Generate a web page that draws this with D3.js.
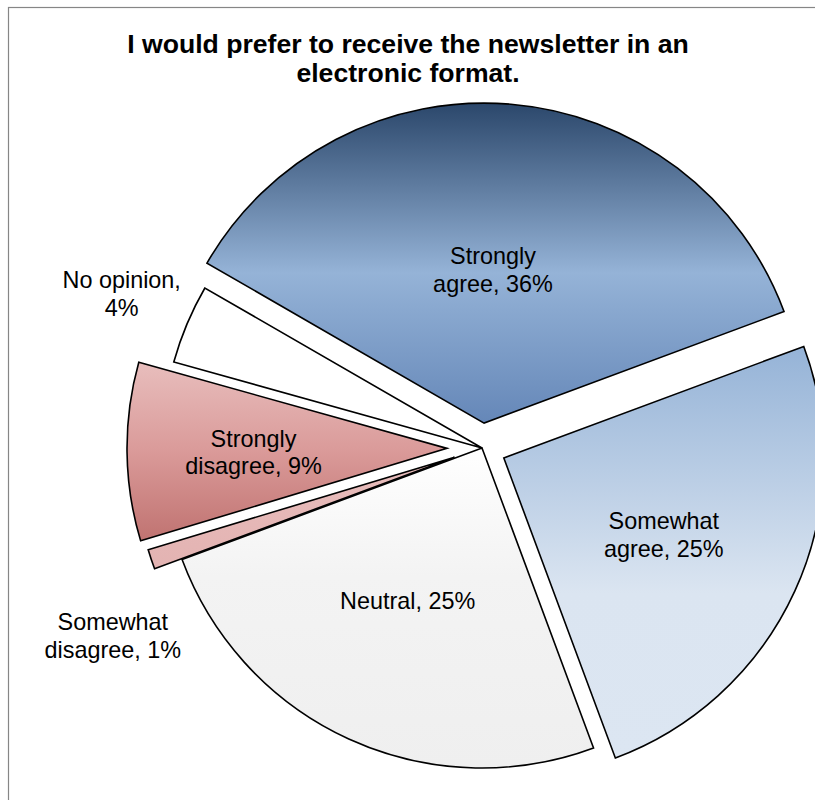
<!DOCTYPE html>
<html>
<head>
<meta charset="utf-8">
<script src="https://cdn.jsdelivr.net/npm/d3@7"></script>
<style>
  html, body { margin: 0; padding: 0; background: #fff; }
  svg { display: block; }
  text { font-family: "Liberation Sans", Arial, sans-serif; fill: #000; }
</style>
</head>
<body>
<svg id="chart" width="815" height="800"></svg>
<script>
// Survey answers, in the order the slices run clockwise
const categories = ["Strongly agree", "Somewhat agree", "Neutral", "Somewhat disagree", "Strongly disagree", "No opinion"];
const percents = [36, 25, 25, 1, 9, 4];
const labelLines = [
  ["Strongly", "agree, 36%"],
  ["Somewhat", "agree, 25%"],
  ["Neutral, 25%"],
  ["Somewhat", "disagree, 1%"],
  ["Strongly", "disagree, 9%"],
  ["No opinion,", "4%"]
];
const titleLines = ["I would prefer to receive the newsletter in an", "electronic format."];

// Presentation settings
const W = 815, H = 800;
const cx = 482, cy = 448, R = 320;
const startDeg = -60;
// how far each slice is pulled out from the centre (px)
const explode = [25, 24, 0, 29, 35, 0];
// label anchors: angle shift from the slice bisector (deg) and distance as a fraction of R
const labelPlace = [
  { da: -1.5, rf: 0.48 },
  { da: 1.1, rf: 0.555 },
  { da: 1.4, rf: 0.53 },
  { da: -9.0, rf: 1.205 },
  { da: -0.6, rf: 0.605 },
  { da: 0.4, rf: 1.225 }
];
// vertical gradient stops for each slice
const fills = [
  [[0, "#2b476b"], [0.53, "#95b3d7"], [1, "#6587b8"]],
  [[0, "#95b3d7"], [0.6, "#dbe5f1"], [1, "#dce6f2"]],
  [[0, "#ffffff"], [0.4, "#f3f3f3"], [1, "#efefef"]],
  [[0, "#e8bdbc"], [1, "#e3b3b2"]],
  [[0, "#e8bebd"], [0.5, "#da9a99"], [1, "#c07371"]],
  [[0, "#ffffff"], [1, "#ffffff"]]
];
const labelSize = 23.4;

const svg = d3.select("#chart");

// outer frame
svg.append("rect")
  .attr("x", 8.5).attr("y", 7.5)
  .attr("width", W + 20).attr("height", H + 20)
  .attr("fill", "#fff")
  .attr("stroke", "#868686").attr("stroke-width", 1.2);

// title
svg.append("text")
  .attr("text-anchor", "middle")
  .attr("font-weight", "bold")
  .attr("font-size", 26.6)
  .selectAll("tspan")
  .data(titleLines)
  .join("tspan")
  .attr("x", 408)
  .attr("y", (d, i) => 53 + i * 29)
  .text(d => d);

const data = categories.map((c, i) => ({ name: c, value: percents[i], lines: labelLines[i], idx: i }));

const pie = d3.pie()
  .value(d => d.value)
  .sort(null)
  .startAngle(startDeg * Math.PI / 180)
  .endAngle(startDeg * Math.PI / 180 + 2 * Math.PI);

const arc = d3.arc().innerRadius(0).outerRadius(R);

const defs = svg.append("defs");
fills.forEach((stops, i) => {
  const g = defs.append("linearGradient")
    .attr("id", "grad" + i)
    .attr("x1", 0).attr("y1", 0).attr("x2", 0).attr("y2", 1);
  stops.forEach(s => g.append("stop").attr("offset", s[0]).attr("stop-color", s[1]));
});

const arcs = pie(data);

const slices = svg.append("g")
  .selectAll("g.slice")
  .data(arcs)
  .join("g")
  .attr("class", "slice")
  .attr("transform", d => {
    const mid = (d.startAngle + d.endAngle) / 2;
    const e = explode[d.data.idx];
    return `translate(${cx + e * Math.sin(mid)},${cy - e * Math.cos(mid)})`;
  });

slices.append("path")
  .attr("d", arc)
  .attr("fill", d => `url(#grad${d.data.idx})`)
  .attr("stroke", "#000")
  .attr("stroke-width", 1.6)
  .attr("stroke-linejoin", "miter");

// data labels
slices.each(function (d) {
  const p = labelPlace[d.data.idx];
  const mid = (d.startAngle + d.endAngle) / 2 + p.da * Math.PI / 180;
  const r = p.rf * R;
  const x = r * Math.sin(mid), y = -r * Math.cos(mid);
  const n = d.data.lines.length;
  const lh = 27.5;
  d3.select(this).append("text")
    .attr("text-anchor", "middle")
    .attr("font-size", labelSize)
    .selectAll("tspan")
    .data(d.data.lines)
    .join("tspan")
    .attr("x", x)
    .attr("y", (t, i) => y + (i - (n - 1) / 2) * lh)
    .attr("dy", "0.35em")
    .text(t => t);
});
</script>
</body>
</html>
